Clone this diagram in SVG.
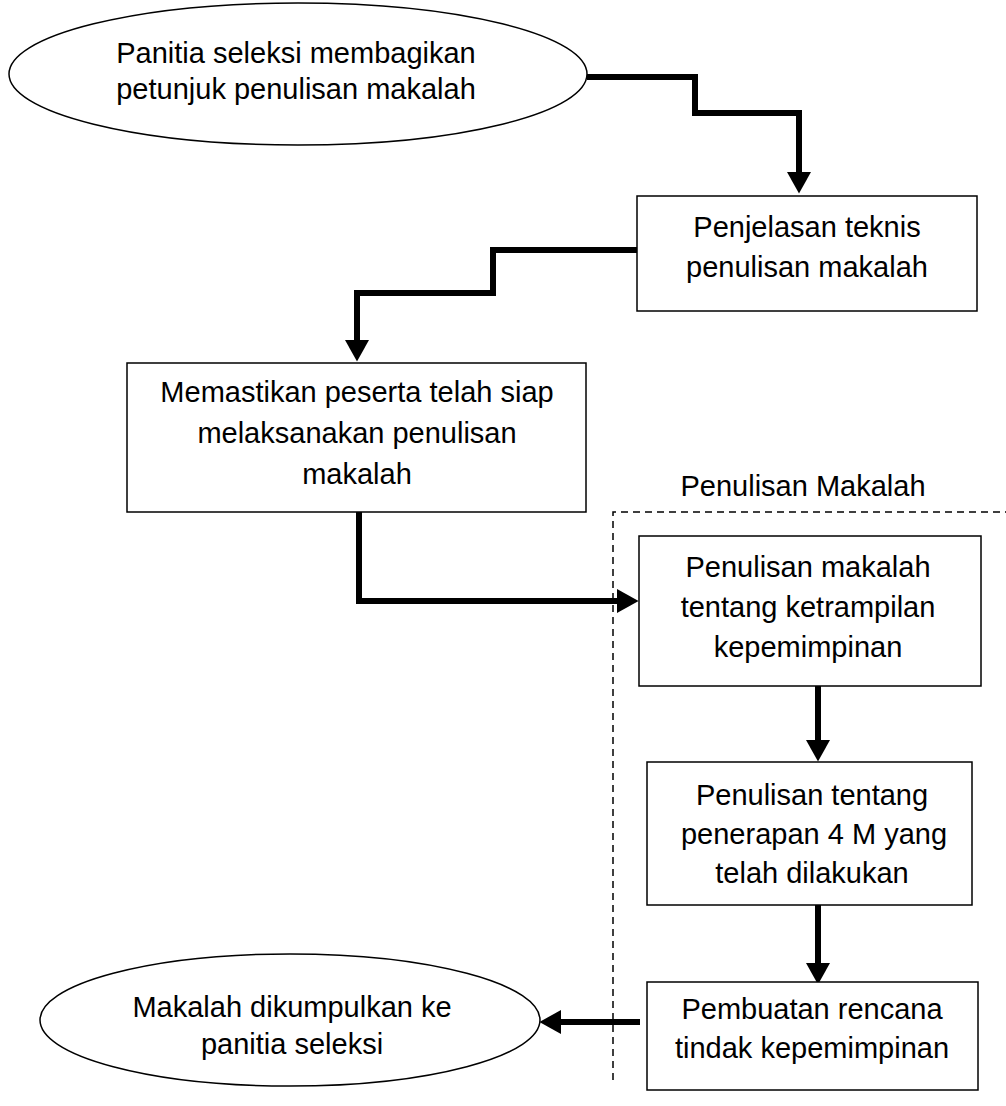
<svg xmlns="http://www.w3.org/2000/svg" width="1006" height="1106" viewBox="0 0 1006 1106">
<defs>
<marker id="ah" markerWidth="4" markerHeight="4" refX="0" refY="2" orient="auto" markerUnits="strokeWidth"><path d="M0,0 L3.6,2 L0,4 Z" fill="#000"/></marker>
<style>
.box{fill:#fff;stroke:#000;stroke-width:1.5}
.t{font-family:"Liberation Sans",Arial,sans-serif;font-size:29px;fill:#000;text-anchor:middle}
.c{fill:none;stroke:#000;stroke-width:6;stroke-linejoin:miter;stroke-linecap:butt}
.dash{fill:none;stroke:#000;stroke-width:1.5;stroke-dasharray:7,5}
</style>
</defs>
<rect width="1006" height="1106" fill="#fff"/>
<g id="region">
<path class="dash" d="M613,1080 L613,512 L1006,512"/>
<text class="t" x="803" y="496">Penulisan Makalah</text>
</g>
<g id="connectors">
<path class="c" d="M587,77 L695,77 L695,113 L799,113 L799,172" marker-end="url(#ah)"/>
<path class="c" d="M637,250 L493,250 L493,293 L357,293 L357,340" marker-end="url(#ah)"/>
<path class="c" d="M359,512 L359,601 L617,601" marker-end="url(#ah)"/>
<path class="c" d="M818,686 L818,740" marker-end="url(#ah)"/>
<path class="c" d="M818,905 L818,963" marker-end="url(#ah)"/>
<path class="c" d="M640,1022 L561,1022" marker-end="url(#ah)"/>
</g>
<g id="n1">
<ellipse class="box" cx="298" cy="74" rx="289" ry="71"/>
<text class="t" x="296" y="63">Panitia seleksi membagikan</text>
<text class="t" x="296" y="99">petunjuk penulisan makalah</text>
</g>
<g id="n2">
<rect class="box" x="637" y="196" width="340" height="115"/>
<text class="t" x="807" y="237">Penjelasan teknis</text>
<text class="t" x="807" y="277">penulisan makalah</text>
</g>
<g id="n3">
<rect class="box" x="127" y="363" width="459" height="149"/>
<text class="t" x="357" y="402">Memastikan peserta telah siap</text>
<text class="t" x="357" y="443">melaksanakan penulisan</text>
<text class="t" x="357" y="484">makalah</text>
</g>
<g id="n4">
<rect class="box" x="639" y="536" width="342" height="150"/>
<text class="t" x="808" y="577">Penulisan makalah</text>
<text class="t" x="808" y="617">tentang ketrampilan</text>
<text class="t" x="808" y="657">kepemimpinan</text>
</g>
<g id="n5">
<rect class="box" x="647" y="762" width="325" height="143"/>
<text class="t" x="812" y="805">Penulisan tentang</text>
<text class="t" x="814" y="844">penerapan 4 M yang</text>
<text class="t" x="812" y="883">telah dilakukan</text>
</g>
<g id="n6">
<rect class="box" x="647" y="982" width="331" height="108"/>
<text class="t" x="812" y="1019">Pembuatan rencana</text>
<text class="t" x="812" y="1058">tindak kepemimpinan</text>
</g>
<g id="n7">
<ellipse class="box" cx="290" cy="1020" rx="250" ry="66"/>
<text class="t" x="292" y="1017">Makalah dikumpulkan ke</text>
<text class="t" x="292" y="1054">panitia seleksi</text>
</g>
</svg>
